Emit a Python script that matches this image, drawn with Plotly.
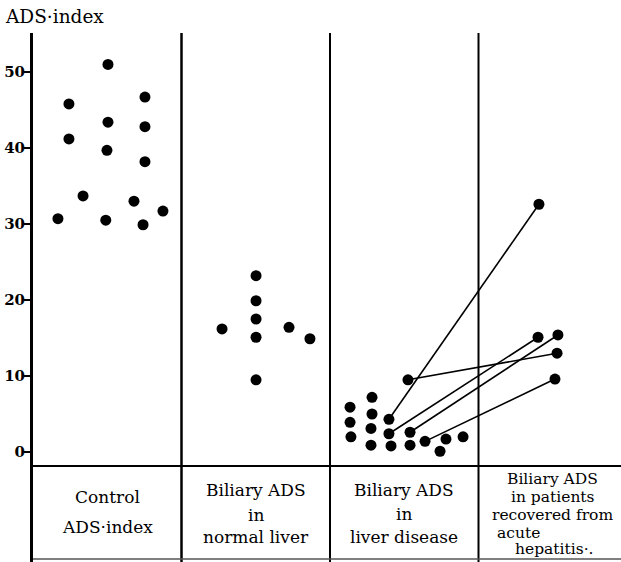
import plotly.graph_objects as go

# ---- data ----
group_labels = [
    ["Control", "ADS·index"],
    ["Biliary ADS", "in", "normal liver"],
    ["Biliary ADS", "in", "liver disease"],
    ["Biliary ADS", "in patients", "recovered from", "acute", "hepatitis·."],
]
y_ticks = [0, 10, 20, 30, 40, 50]

# Control ADS-index (group 0)
control_x = [0.168, 0.242, 0.242, 0.337, 0.505, 0.505, 0.498, 0.490, 0.754, 0.754, 0.754, 0.680, 0.741, 0.875]
control_y = [30.7, 45.8, 41.2, 33.7, 51.0, 43.4, 39.7, 30.5, 46.7, 42.8, 38.2, 33.0, 29.9, 31.7]

# Biliary ADS in normal liver (group 1)
normal_x = [1.273, 1.502, 1.502, 1.502, 1.502, 1.502, 1.724, 1.865]
normal_y = [16.2, 23.2, 19.9, 17.5, 15.1, 9.5, 16.4, 14.9]

# Biliary ADS in liver disease, unpaired (group 2)
disease_x = [2.135, 2.135, 2.141, 2.283, 2.283, 2.276, 2.276, 2.411, 2.539, 2.741, 2.781, 2.896]
disease_y = [5.9, 3.9, 2.0, 7.2, 5.0, 3.1, 0.9, 0.8, 0.9, 0.1, 1.7, 2.0]

# Paired: liver disease -> recovered from acute hepatitis (group 2 -> group 3)
paired_disease_x = [2.397, 2.397, 2.525, 2.539, 2.640]
paired_disease_y = [4.3, 2.4, 9.5, 2.6, 1.4]
recovered_x = [3.407, 3.401, 3.529, 3.535, 3.515]
recovered_y = [32.6, 15.1, 13.0, 15.4, 9.6]

# ---- figure ----
W, H = 621, 562
ML, MT = 33, 33
PX_PER_UNIT = 7.6
Y0_PX = 452  # pixel of value 0
y_top = (Y0_PX - MT) / PX_PER_UNIT
y_bot = (Y0_PX - H) / PX_PER_UNIT
x_max = (W - ML) / 148.5

def yv(py):
    return (Y0_PX - py) / PX_PER_UNIT

fig = go.Figure()
mk = dict(color="black", size=11)

fig.add_trace(go.Scatter(x=control_x, y=control_y, mode="markers", marker=mk, showlegend=False))
fig.add_trace(go.Scatter(x=normal_x, y=normal_y, mode="markers", marker=mk, showlegend=False))
fig.add_trace(go.Scatter(x=disease_x, y=disease_y, mode="markers", marker=mk, showlegend=False))

lx, ly = [], []
for a, b, c, d in zip(paired_disease_x, paired_disease_y, recovered_x, recovered_y):
    lx += [a, c, None]
    ly += [b, d, None]
fig.add_trace(go.Scatter(x=lx, y=ly, mode="lines+markers", marker=mk,
                         line=dict(color="black", width=1.6), showlegend=False))

shapes = []
for k in [1, 2, 3]:
    shapes.append(dict(type="line", xref="x", yref="paper", x0=k, x1=k, y0=0, y1=1,
                       line=dict(color="black", width=2.5 if k == 1 else 2)))
shapes.append(dict(type="line", xref="paper", yref="y", x0=0, x1=1, y0=yv(466), y1=yv(466),
                   line=dict(color="black", width=2)))
shapes.append(dict(type="line", xref="paper", yref="y", x0=0, x1=1, y0=yv(559), y1=yv(559),
                   line=dict(color="#555", width=1.5)))

SERIF = "DejaVu Serif, serif"
annotations = []
line_pos = [
    [497, 527],
    [490, 515, 537],
    [490, 514, 537],
    [479, 497, 515, 533, 549],
]
for gi, (labels, pys) in enumerate(zip(group_labels, line_pos)):
    fs = 15.5 if gi == 3 else 17
    for li, (t, py) in enumerate(zip(labels, pys)):
        xc = gi + 0.5
        xa = "center"
        if gi == 3 and t == "acute":
            xc, xa = (495 - ML) / 148.5, "left"
        elif gi == 3 and t.startswith("hepatitis"):
            xc, xa = (513 - ML) / 148.5, "left"
        annotations.append(dict(x=xc, y=yv(py), xref="x", yref="y", text=t, showarrow=False,
                                xanchor=xa, yanchor="middle",
                                font=dict(family=SERIF, size=fs, color="black")))
annotations.append(dict(x=-30 / (W - ML), y=1 + 16 / (H - MT), xref="paper", yref="paper",
                        text="ADS·index", showarrow=False, xanchor="left", yanchor="middle",
                        font=dict(family=SERIF, size=18.5, color="black")))

fig.update_layout(
    width=W, height=H,
    margin=dict(l=ML, r=0, t=MT, b=0),
    paper_bgcolor="white", plot_bgcolor="white",
    shapes=shapes, annotations=annotations,
    xaxis=dict(range=[0, x_max], visible=False, showgrid=False, zeroline=False),
    yaxis=dict(range=[y_bot, y_top], tickvals=y_ticks, ticktext=[str(v) for v in y_ticks],
               ticks="outside", ticklen=6, tickwidth=2, tickcolor="black",
               showline=True, linewidth=3, linecolor="black", showgrid=False, zeroline=False,
               automargin=False, ticklabelstandoff=-4,
               tickfont=dict(family=SERIF, size=15, color="black", weight="bold")),
)
fig.write_html("out.html")
